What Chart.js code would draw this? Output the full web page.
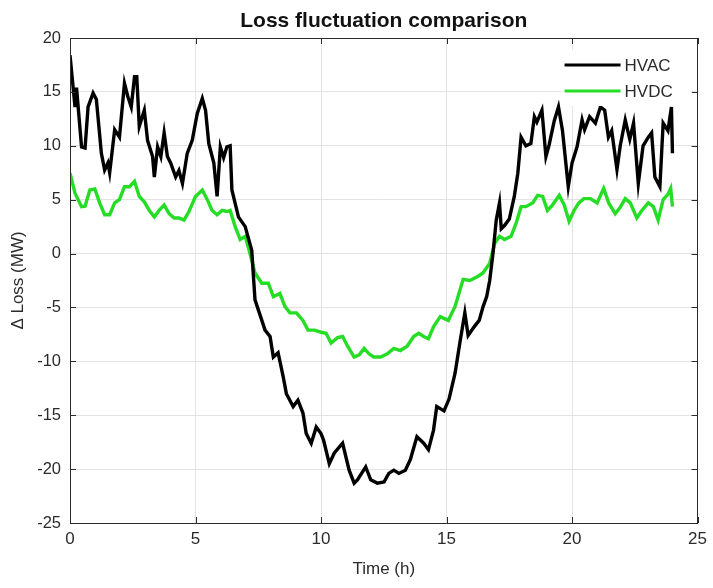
<!DOCTYPE html>
<html lang="en">
  <head>
    <title>Loss fluctuation comparison</title>
    <meta charset="utf-8">
    <script src="https://cdn.jsdelivr.net/npm/chart.js@4.4.1/dist/chart.umd.min.js"></script>
    <style>
      html, body { margin: 0; padding: 0; background: #fff; }
      #wrap { position: relative; width: 713px; height: 588px; }
    </style>
  </head>
  <body>
    <div id="wrap">
        <canvas id="lossChart"></canvas>
    </div>
  <script>
    // values (time in hours, loss delta in MW)
    var hvacTime = [0, 0.2, 0.26, 0.46, 0.6, 0.72, 0.92, 1.05, 1.25, 1.38, 1.51, 1.58, 1.78, 1.97, 2.17, 2.3, 2.44, 2.57, 2.66, 2.76,
        2.96, 3.09, 3.29, 3.36, 3.49, 3.62, 3.75, 3.88, 4.01, 4.21, 4.34, 4.48, 4.67, 4.87, 5.07, 5.27, 5.4, 5.53, 5.73, 5.86,
        5.99, 6.12, 6.25, 6.38, 6.45, 6.71, 6.98, 7.24, 7.37, 7.5, 7.77, 7.97, 8.1, 8.29, 8.49, 8.62, 8.89, 9.08, 9.28, 9.41,
        9.61, 9.81, 10.0, 10.1, 10.33, 10.53, 10.86, 11.12, 11.32, 11.45, 11.78, 11.98, 12.24, 12.51, 12.7, 12.9, 13.1, 13.36, 13.56, 13.82,
        14.09, 14.28, 14.48, 14.61, 14.9, 15.1, 15.34, 15.53, 15.73, 15.86, 16.1, 16.3, 16.46, 16.6, 16.72, 16.85, 16.98, 17.11, 17.18, 17.31,
        17.5, 17.7, 17.84, 17.97, 18.16, 18.36, 18.5, 18.6, 18.8, 18.96, 19.09, 19.29, 19.46, 19.62, 19.85, 20.0, 20.2, 20.4, 20.5, 20.7,
        20.93, 21.13, 21.3, 21.45, 21.58, 21.79, 21.92, 22.12, 22.3, 22.45, 22.64, 22.83, 23.04, 23.17, 23.3, 23.5, 23.63, 23.82, 23.96, 24.0];
    var hvacLoss = [18.4, 13.6, 15.4, 9.9, 9.8, 13.6, 14.9, 14.3, 9.3, 7.75, 8.4, 7.5, 11.5, 10.8, 15.8, 14.6, 13.6, 16.4, 16.4, 11.8,
        13.3, 10.5, 9.0, 7.1, 9.9, 9.0, 11.2, 9.0, 8.4, 7.1, 7.7, 6.5, 9.3, 10.5, 13.0, 14.4, 13.3, 10.2, 8.4, 5.3,
        9.9, 8.9, 9.9, 10.0, 5.9, 3.4, 2.5, 0.3, -4.3, -5.2, -7.1, -7.7, -9.6, -9.2, -11.4, -13.0, -14.2, -13.6, -14.8, -16.7,
        -17.6, -16.1, -16.7, -17.3, -19.5, -18.5, -17.6, -20.1, -21.3, -21.0, -19.8, -21.0, -21.3, -21.2, -20.4, -20.1, -20.4, -20.1, -19.1, -17.0,
        -17.6, -18.2, -16.4, -14.2, -14.6, -13.5, -11.1, -8.3, -5.5, -7.6, -6.8, -6.2, -4.9, -4.0, -2.5, 0.0, 3.1, 4.7, 2.3, 2.6,
        3.2, 5.3, 7.45, 10.8, 10.0, 10.2, 12.7, 12.2, 13.3, 9.0, 10.1, 12.3, 13.6, 11.4, 6.2, 8.4, 9.9, 12.4, 11.5, 12.7,
        12.1, 13.6, 13.3, 10.8, 11.4, 7.8, 10.0, 12.4, 10.6, 12.1, 6.5, 10.0, 10.8, 11.2, 7.1, 6.2, 12.1, 11.4, 13.6, 9.3];

    var hvdcTime = [0, 0.2, 0.46, 0.6, 0.79, 0.99, 1.18, 1.38, 1.58, 1.78, 1.97, 2.17, 2.37, 2.57, 2.76, 2.96, 3.16, 3.36, 3.55, 3.75,
        3.95, 4.15, 4.34, 4.54, 4.74, 5.0, 5.27, 5.47, 5.66, 5.86, 6.06, 6.25, 6.38, 6.58, 6.78, 6.98, 7.17, 7.37, 7.64, 7.9,
        8.1, 8.36, 8.56, 8.76, 9.02, 9.28, 9.48, 9.74, 10.0, 10.2, 10.4, 10.66, 10.86, 11.06, 11.32, 11.52, 11.72, 11.91, 12.1, 12.38,
        12.64, 12.9, 13.16, 13.43, 13.69, 13.89, 14.09, 14.28, 14.48, 14.75, 15.07, 15.34, 15.66, 15.93, 16.26, 16.45, 16.72, 16.92, 17.11, 17.31,
        17.57, 17.77, 17.97, 18.16, 18.43, 18.63, 18.83, 19.02, 19.22, 19.49, 19.69, 19.88, 20.08, 20.27, 20.47, 20.73, 21.0, 21.26, 21.46, 21.72,
        21.92, 22.12, 22.32, 22.58, 22.78, 23.04, 23.24, 23.43, 23.63, 23.82, 23.93, 24.0];
    var hvdcLoss = [7.45, 5.6, 4.35, 4.4, 5.9, 6.0, 4.7, 3.6, 3.6, 4.7, 5.0, 6.2, 6.2, 6.7, 5.3, 4.8, 4.0, 3.4, 4.0, 4.5,
        3.7, 3.3, 3.3, 3.1, 3.9, 5.3, 5.9, 5.0, 4.0, 3.6, 4.0, 3.9, 4.0, 2.5, 1.3, 1.6, 0.0, -1.8, -2.75, -2.75,
        -4.0, -3.7, -4.9, -5.5, -5.5, -6.2, -7.1, -7.1, -7.3, -7.4, -8.3, -7.8, -7.7, -8.6, -9.6, -9.4, -8.8, -9.3, -9.6, -9.6,
        -9.3, -8.8, -9.0, -8.6, -7.7, -7.4, -7.7, -7.9, -6.8, -5.85, -6.2, -4.9, -2.4, -2.5, -2.1, -1.8, -0.9, 0.95, 1.6, 1.3,
        1.6, 2.8, 4.35, 4.35, 4.7, 5.4, 5.3, 4.0, 4.5, 5.4, 4.5, 3.0, 4.0, 4.7, 5.1, 5.1, 4.7, 6.05, 4.7, 3.7,
        4.3, 5.1, 4.7, 3.3, 4.0, 4.7, 4.35, 3.1, 5.0, 5.5, 6.05, 4.35];

    var seriesNames = ['HVAC', 'HVDC'];
    var chartTitle = 'Loss fluctuation comparison';
    var xTicks = [0, 5, 10, 15, 20, 25];
    var yTicks = [-25, -20, -15, -10, -5, 0, 5, 10, 15, 20];

    function pairs(xs, ys) {
        return xs.map(function(x, i) { return {x: x, y: ys[i]}; });
    }

    var textColor = '#2b2b2b';
    var fontFam = '"Liberation Sans", Arial, Helvetica, sans-serif';

    // axes box, inward ticks, title over the plot area and the legend, matlab style
    var matlabFrame = {
        id: 'matlabFrame',
        afterDatasetsDraw: function(chart) {
            var ctx = chart.ctx, a = chart.chartArea;
            var xs = chart.scales.x, ys = chart.scales.y;
            ctx.save();
            ctx.strokeStyle = textColor;
            ctx.lineWidth = 1;
            ctx.beginPath();
            xTicks.forEach(function(v) {
                var px = Math.round(xs.getPixelForValue(v)) + 0.5;
                ctx.moveTo(px, a.bottom); ctx.lineTo(px, a.bottom - 6);
                ctx.moveTo(px, a.top); ctx.lineTo(px, a.top + 6);
            });
            yTicks.forEach(function(v) {
                var py = Math.round(ys.getPixelForValue(v)) + 0.5;
                ctx.moveTo(a.left, py); ctx.lineTo(a.left + 6, py);
                ctx.moveTo(a.right, py); ctx.lineTo(a.right - 6, py);
            });
            ctx.stroke();
            ctx.strokeRect(Math.round(a.left) + 0.5, Math.round(a.top) + 0.5,
                Math.round(a.right - a.left) - 1, Math.round(a.bottom - a.top));

            // title centred on the axes
            ctx.fillStyle = '#111';
            ctx.font = 'bold 21px ' + fontFam;
            ctx.textAlign = 'center';
            ctx.textBaseline = 'alphabetic';
            ctx.fillText(chartTitle, (a.left + a.right) / 2, a.top - 11);

            // legend
            var lx = a.right - 136, ly = a.top + 12;
            ctx.fillStyle = '#fff';
            ctx.fillRect(lx, ly, 130, 56);
            ctx.font = '17px ' + fontFam;
            ctx.textAlign = 'left';
            ctx.textBaseline = 'middle';
            chart.data.datasets.forEach(function(ds, i) {
                var yy = ly + 15 + i * 26;
                ctx.strokeStyle = ds.borderColor;
                ctx.lineWidth = 3;
                ctx.beginPath();
                ctx.moveTo(lx + 3, yy); ctx.lineTo(lx + 59, yy);
                ctx.stroke();
                ctx.fillStyle = textColor;
                ctx.fillText(ds.label, lx + 63, yy + 1);
            });
            ctx.restore();
        }
    };

    var ctx = document.getElementById('lossChart').getContext('2d');
    var lossChart = new Chart(ctx, {
        type: 'scatter',
        data: {
            datasets: [{
                label: seriesNames[0],
                data: pairs(hvacTime, hvacLoss),
                showLine: true,
                borderColor: '#000000',
                backgroundColor: '#000000',
                borderWidth: 3.4,
                pointRadius: 0,
                tension: 0
            }, {
                label: seriesNames[1],
                data: pairs(hvdcTime, hvdcLoss),
                showLine: true,
                borderColor: '#25dd25',
                backgroundColor: '#25dd25',
                borderWidth: 3.4,
                pointRadius: 0,
                tension: 0
            }]
        },
        options: {
            responsive: true,
            maintainAspectRatio: false,
            animation: false,
            layout: { padding: { left: 0, right: 10, top: 38, bottom: 0 } },
            plugins: {
                legend: { display: false },
                tooltip: { enabled: false },
                title: { display: false }
            },
            scales: {
                x: {
                    type: 'linear',
                    min: 0, max: 25,
                    afterBuildTicks: function(scale) {
                        scale.ticks = xTicks.map(function(v) { return {value: v}; });
                    },
                    afterFit: function(scale) { scale.height = 65; },
                    grid: { color: '#e3e3e3', drawTicks: false },
                    border: { display: false },
                    ticks: { color: textColor, padding: 6, font: { family: fontFam, size: 17 } },
                    title: {
                        display: true, text: 'Time (h)', color: textColor,
                        font: { family: fontFam, size: 17, lineHeight: 1.2 },
                        padding: { top: 0, bottom: 8 }
                    }
                },
                y: {
                    type: 'linear',
                    min: -25, max: 20,
                    afterBuildTicks: function(scale) {
                        scale.ticks = yTicks.map(function(v) { return {value: v}; });
                    },
                    afterFit: function(scale) { scale.width = 70; },
                    grid: { color: '#e3e3e3', drawTicks: false },
                    border: { display: false },
                    ticks: { color: textColor, padding: 9, font: { family: fontFam, size: 16.5 } },
                    title: {
                        display: true, text: '\u0394 Loss (MW)', color: textColor,
                        font: { family: fontFam, size: 17, lineHeight: 1.2 },
                        padding: { top: 8, bottom: 0 }
                    }
                }
            }
        },
        plugins: [matlabFrame]
    });
  </script>
  </body>
</html>
